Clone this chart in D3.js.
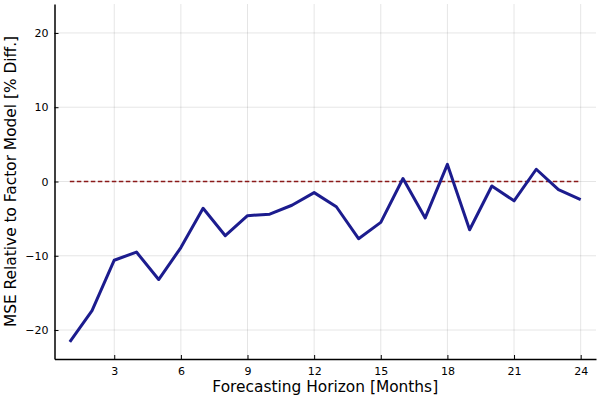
<!DOCTYPE html>
<html><head><meta charset="utf-8">
<script src="https://cdn.jsdelivr.net/npm/d3@7"></script>
<style>body{margin:0;background:#fff}svg{display:block;font-family:"DejaVu Sans",sans-serif}</style>
</head><body><svg id="c" width="600" height="400"></svg>
<script>
const horizons = d3.range(1, 25);
const mseDiff = [-21.6, -17.4, -10.6, -9.5, -13.2, -8.9, -3.6, -7.3, -4.6, -4.4, -3.2, -1.5,
                 -3.4, -7.7, -5.5, 0.4, -4.9, 2.3, -6.5, -0.6, -2.6, 1.65, -1.1, -2.45];
const baseline = [0, 0];
const xTicks = [3, 6, 9, 12, 15, 18, 21, 24];
const yTicks = [-20, -10, 0, 10, 20];
const xLabel = "Forecasting Horizon [Months]";
const yLabel = "MSE Relative to Factor Model [% Diff.]";

const svg = d3.select("#c");
const L = 54.5, R = 596, T = 4, B = 359;
const x = d3.scaleLinear().domain([0.31, 24.69]).range([L, R]);
const y = d3.scaleLinear().domain([-23.9, 23.9]).range([B, T]);

// grid
svg.append("g").selectAll("line").data(xTicks).join("line")
  .attr("x1", d => x(d)).attr("x2", d => x(d)).attr("y1", T).attr("y2", B)
  .attr("stroke", "#000").attr("stroke-opacity", 0.1).attr("stroke-width", 1);
svg.append("g").selectAll("line").data(yTicks).join("line")
  .attr("y1", d => y(d)).attr("y2", d => y(d)).attr("x1", L).attr("x2", R)
  .attr("stroke", "#000").attr("stroke-opacity", 0.1).attr("stroke-width", 1);

// axes
const fmt = d => d < 0 ? "\u2212" + Math.abs(d) : String(d);
const gx = svg.append("g").attr("transform", `translate(0,${B})`)
  .call(d3.axisBottom(x).tickValues(xTicks).tickSizeInner(-4).tickSizeOuter(0).tickPadding(8).tickFormat(fmt));
const gy = svg.append("g").attr("transform", `translate(${L},0)`)
  .call(d3.axisLeft(y).tickValues(yTicks).tickSizeInner(-4).tickSizeOuter(0).tickPadding(6).tickFormat(fmt));
[gx, gy].forEach(g => {
  g.select(".domain").attr("stroke", "#000").attr("stroke-width", 1.5);
  g.selectAll(".tick line").attr("stroke", "#000").attr("stroke-width", 1);
  g.selectAll(".tick text").attr("font-size", 11).attr("fill", "#000").attr("font-family", "DejaVu Sans");
});

// baseline dashed
svg.append("path").datum(baseline.map((v, i) => [i === 0 ? 1 : 24, v]))
  .attr("d", d3.line().x(d => x(d[0])).y(d => y(d[1])))
  .attr("fill", "none").attr("stroke", "#8b1a1a").attr("stroke-width", 1.5)
  .attr("stroke-dasharray", "4.5,2.5");

// series
svg.append("path").datum(horizons.map((h, i) => [h, mseDiff[i]]))
  .attr("d", d3.line().x(d => x(d[0])).y(d => y(d[1])))
  .attr("fill", "none").attr("stroke", "#1c1c8e").attr("stroke-width", 3)
  .attr("stroke-linejoin", "round");

// labels
svg.append("text").attr("x", (L + R) / 2).attr("y", 392).attr("text-anchor", "middle")
  .attr("font-size", 15.4).attr("fill", "#000").text(xLabel);
svg.append("text").attr("transform", `translate(16,${(T + B) / 2}) rotate(-90)`)
  .attr("text-anchor", "middle").attr("font-size", 15.4).attr("fill", "#000").text(yLabel);
</script></body></html>
